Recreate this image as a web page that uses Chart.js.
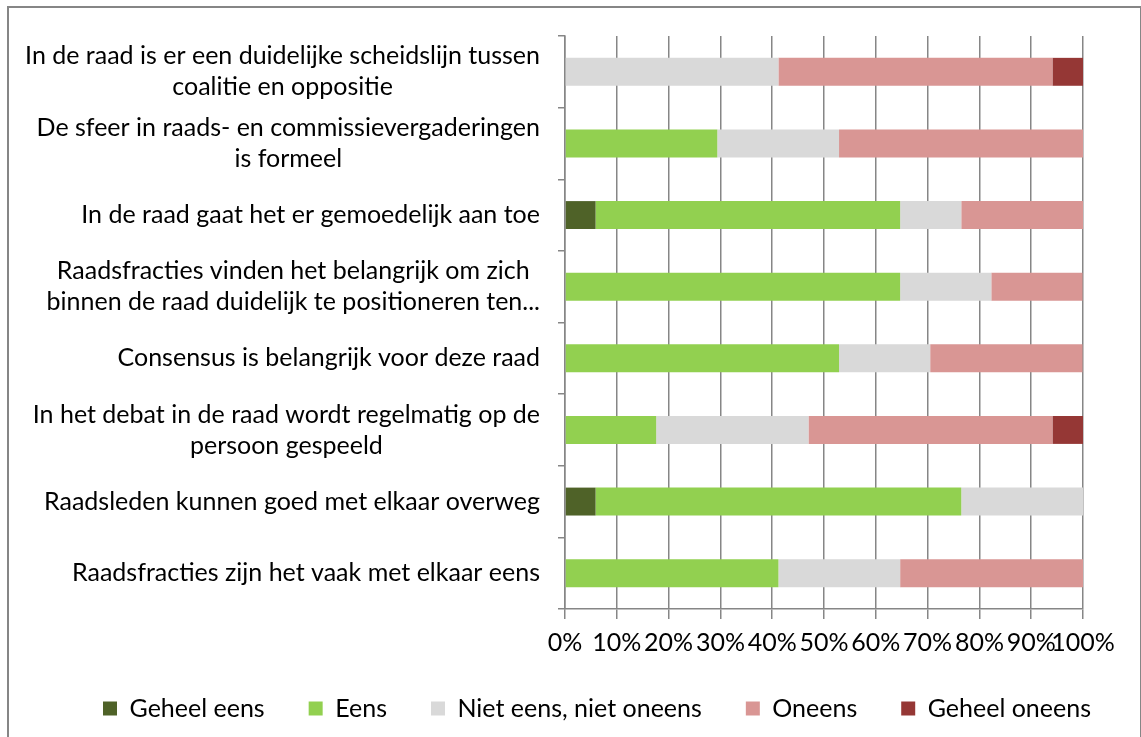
<!DOCTYPE html>
<html>
<head>
<meta charset="utf-8">
<script src="https://cdn.jsdelivr.net/npm/chart.js@4/dist/chart.umd.min.js"></script>
<style>
  html, body { margin: 0; padding: 0; background: #fff; overflow: hidden; }
  #wrap { position: relative; width: 1141px; height: 737px; }
  #frame {
    position: absolute; left: 7px; top: 6px; width: 1131px; height: 800px;
    border: 2px solid #868686; pointer-events: none;
  }
</style>
</head>
<body>
<div id="wrap">
  <canvas id="chart" width="1141" height="737"></canvas>
  <div id="frame"></div>
</div>
<script>
// Stellingen (van boven naar beneden)
const categories = [
  ['In de raad is er een duidelijke scheidslijn tussen', 'coalitie en oppositie'],
  ['De sfeer in raads- en commissievergaderingen', 'is formeel'],
  ['In de raad gaat het er gemoedelijk aan toe'],
  ['Raadsfracties vinden het belangrijk om zich', 'binnen de raad duidelijk te positioneren ten...'],
  ['Consensus is belangrijk voor deze raad'],
  ['In het debat in de raad wordt regelmatig op de', 'persoon gespeeld'],
  ['Raadsleden kunnen goed met elkaar overweg'],
  ['Raadsfracties zijn het vaak met elkaar eens'],
];

// Percentages per antwoordcategorie
const geheelEens = [0, 0, 5.9, 0, 0, 0, 5.9, 0];
const eens = [0, 29.4, 58.8, 64.7, 52.9, 17.6, 70.6, 41.2];
const nietEens = [41.2, 23.5, 11.8, 17.6, 17.6, 29.4, 23.5, 23.5];
const oneens = [52.9, 47.1, 23.5, 17.6, 29.4, 47.1, 0, 35.3];
const geheelOneens = [5.9, 0, 0, 0, 0, 5.9, 0, 0];

const seriesNames = ['Geheel eens', 'Eens', 'Niet eens, niet oneens', 'Oneens', 'Geheel oneens'];
const seriesColors = ['#4F6228', '#92D050', '#D9D9D9', '#D99694', '#953735'];
const seriesData = [geheelEens, eens, nietEens, oneens, geheelOneens];

const FONT = 'Lato';
const FONT_SIZE = 25;
const AXIS_GRAY = '#868686';

// Labels zoals in Excel: blok rechts uitgelijnd, regels gecentreerd.
// Ook de %-labels van de x-as worden hier getekend (niet geclipt).
const axisLabels = {
  id: 'axisLabels',
  afterDraw(chart) {
    const ctx = chart.ctx;
    const yScale = chart.scales.y;
    const xScale = chart.scales.x;
    const right = yScale.right - 25;
    const lineHeight = 31;
    ctx.save();
    ctx.font = FONT_SIZE + 'px ' + FONT;
    ctx.fillStyle = '#000';
    ctx.textAlign = 'center';
    ctx.textBaseline = 'middle';
    categories.forEach((lines, i) => {
      const y = yScale.getPixelForValue(i);
      const maxW = Math.max(...lines.map((l) => ctx.measureText(l).width));
      const cx = right - maxW / 2;
      lines.forEach((line, j) => {
        ctx.fillText(line, cx, y + (j - (lines.length - 1) / 2) * lineHeight);
      });
    });
    xScale.ticks.forEach((t) => {
      ctx.fillText(t.value + '%', xScale.getPixelForValue(t.value), xScale.top + 34);
    });
    ctx.restore();
  },
};

new Chart(document.getElementById('chart').getContext('2d'), {
  type: 'bar',
  data: {
    labels: categories.map((c) => c.join(' ')),
    datasets: seriesNames.map((name, i) => ({
      label: name,
      data: seriesData[i],
      backgroundColor: seriesColors[i],
      borderWidth: 0,
      barPercentage: 0.39,
      categoryPercentage: 1,
    })),
  },
  options: {
    indexAxis: 'y',
    responsive: false,
    animation: false,
    layout: { padding: { top: 36, left: 53, right: 0, bottom: 6 } },
    scales: {
      x: {
        stacked: true,
        min: 0,
        max: 100,
        ticks: { stepSize: 10, display: false },
        grid: { color: AXIS_GRAY, lineWidth: 1.5, tickLength: 10 },
        border: { color: AXIS_GRAY, width: 1.5 },
        afterFit: (s) => { s.height = 43; },
      },
      y: {
        stacked: true,
        ticks: { display: false },
        grid: { offset: true, drawOnChartArea: false, color: AXIS_GRAY, lineWidth: 1.5, tickLength: 7 },
        border: { color: AXIS_GRAY, width: 1.5 },
        afterFit: (s) => { s.width = 512; },
      },
      rightSpace: {
        type: 'linear',
        axis: 'y',
        position: 'right',
        display: true,
        ticks: { display: false },
        grid: { display: false },
        border: { display: false },
        afterFit: (s) => { s.width = 58; },
      },
    },
    plugins: {
      legend: {
        position: 'bottom',
        labels: {
          boxWidth: 14,
          boxHeight: 14,
          padding: 44,
          color: '#000',
          font: { family: FONT, size: FONT_SIZE },
        },
      },
      tooltip: { enabled: false },
    },
  },
  plugins: [axisLabels],
});
</script>
</body>
</html>
